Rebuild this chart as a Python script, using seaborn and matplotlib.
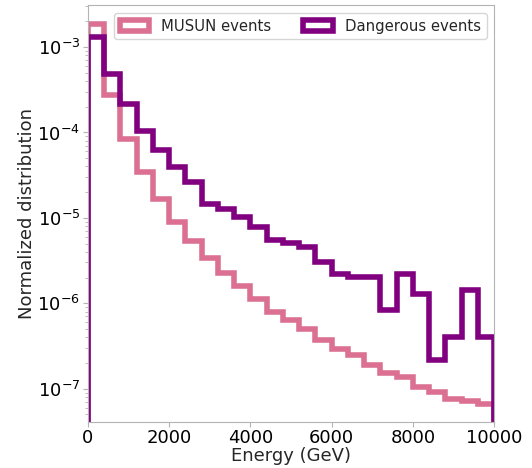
import numpy as np
import pandas as pd
import matplotlib
matplotlib.use("Agg")
import matplotlib.pyplot as plt
from matplotlib.patches import Patch
import seaborn as sns

# Energy binning (GeV): 25 bins of 400 GeV between 0 and 10000
bin_edges = np.linspace(0, 10000, 26)

# Normalized distributions per bin
musun_values = [1.85e-3, 2.75e-4, 8.3e-5, 3.4e-5, 1.65e-5, 8.85e-6, 5.4e-6,
                3.37e-6, 2.24e-6, 1.6e-6, 1.12e-6, 8.0e-7, 6.35e-7, 5.0e-7,
                3.7e-7, 2.94e-7, 2.49e-7, 1.9e-7, 1.51e-7, 1.37e-7, 1.05e-7,
                9.2e-8, 7.5e-8, 7.2e-8, 6.6e-8]
dangerous_values = [1.33e-3, 4.82e-4, 2.16e-4, 1.05e-4, 6.2e-5, 3.95e-5, 2.6e-5,
                    1.45e-5, 1.26e-5, 1.03e-5, 7.9e-6, 5.5e-6, 5.14e-6, 4.6e-6,
                    3.04e-6, 2.2e-6, 2.05e-6, 2.05e-6, 8.3e-7, 2.2e-6, 1.28e-6,
                    2.14e-7, 4.06e-7, 1.43e-6, 4.06e-7]

series_labels = ["MUSUN events", "Dangerous events"]
series_colors = ["palevioletred", "purple"]

bin_centers = 0.5 * (bin_edges[:-1] + bin_edges[1:])
df = pd.DataFrame({
    "energy": np.concatenate([bin_centers, bin_centers]),
    "weight": np.concatenate([musun_values, dangerous_values]),
    "sample": np.repeat(series_labels, len(bin_centers)),
})

sns.set_style("ticks", {"axes.edgecolor": "0.7", "xtick.color": "0.7",
                        "ytick.color": "0.7"})
plt.rcParams["font.family"] = ["DejaVu Sans"]
plt.rcParams["xtick.labelcolor"] = "black"
plt.rcParams["ytick.labelcolor"] = "black"

fig = plt.figure(figsize=(5.32, 4.68), dpi=100)
ax = fig.add_axes([0.165, 0.099, 0.764, 0.890])

for label, color in zip(series_labels, series_colors):
    sub = df[df["sample"] == label]
    ax.hist(sub["energy"], bins=bin_edges, weights=sub["weight"],
            histtype="step", color=color, linewidth=4, label=label)

ax.set_yscale("log")
ax.set_xlim(0, 10000)
ax.set_ylim(4.1e-8, 3.1e-3)
ax.set_xticks([0, 2000, 4000, 6000, 8000, 10000])
ax.tick_params(axis="both", which="major", labelsize=13, length=3.5)
ax.tick_params(axis="x", which="major", pad=2)
ax.tick_params(axis="y", which="major", pad=2)
ax.tick_params(axis="y", which="minor", length=2)
ax.set_xlabel("Energy (GeV)", fontsize=13, labelpad=0)
ax.set_ylabel("Normalized distribution", fontsize=13, labelpad=1)

handles = [Patch(facecolor="none", edgecolor=c, linewidth=4) for c in series_colors]
ax.legend(handles, series_labels, loc="upper right", ncol=2, fontsize=10.7,
          frameon=True, columnspacing=2.15)

fig.savefig("out.png", dpi=100)
